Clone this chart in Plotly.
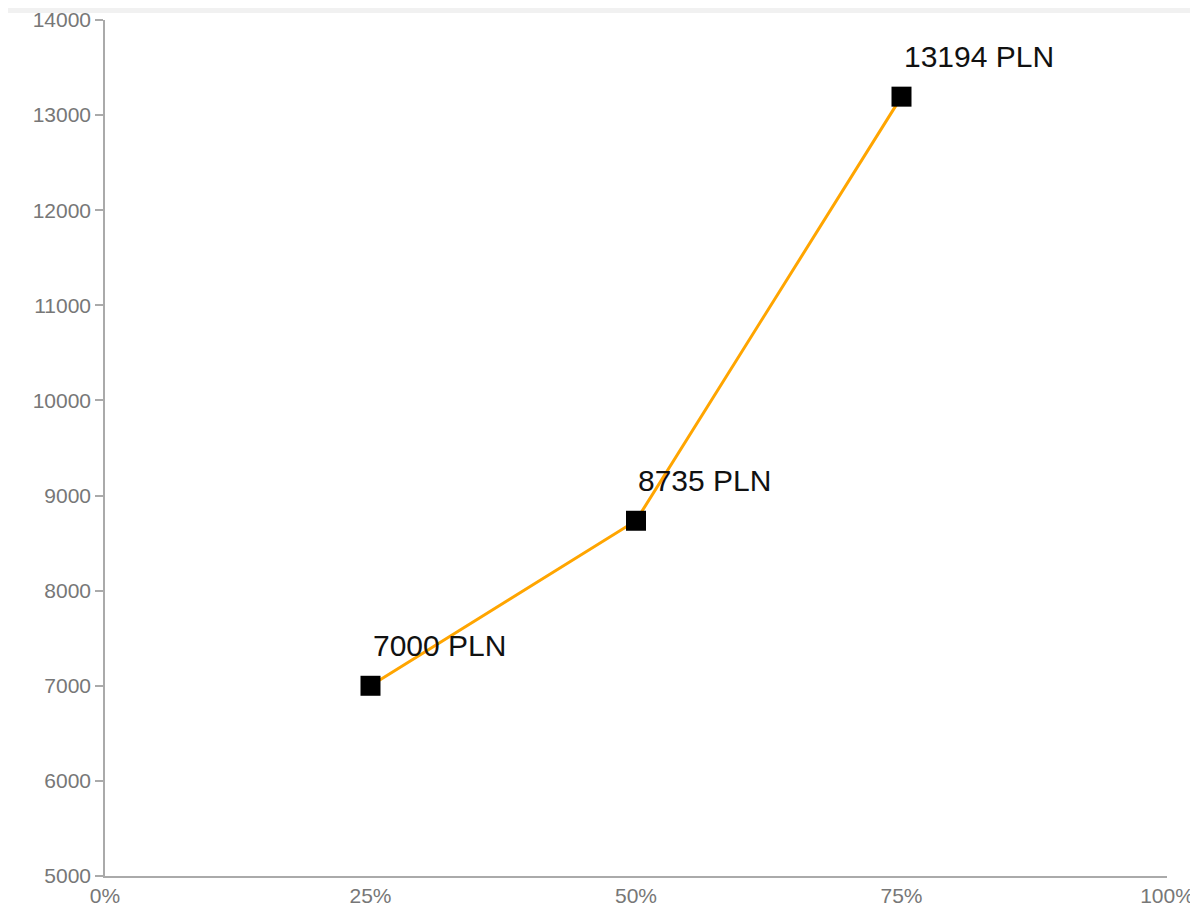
import plotly.graph_objects as go

x_vals = [25, 50, 75]
y_vals = [7000, 8735, 13194]
labels = ["7000 PLN", "8735 PLN", "13194 PLN"]
x_ticks = [0, 25, 50, 75, 100]
x_ticktext = ["0%", "25%", "50%", "75%", "100%"]
y_ticks = [5000, 6000, 7000, 8000, 9000, 10000, 11000, 12000, 13000, 14000]

fig = go.Figure()
fig.add_trace(go.Scatter(
    x=x_vals, y=y_vals, mode="lines+markers",
    line=dict(color="#FFA500", width=3),
    marker=dict(symbol="square", size=20, color="black"),
    hoverinfo="skip", showlegend=False, cliponaxis=False,
))
for xv, yv, t in zip(x_vals, y_vals, labels):
    fig.add_annotation(x=xv, y=yv, text=t, showarrow=False,
                       xanchor="left", yanchor="middle", xshift=0, yshift=40,
                       font=dict(family="Liberation Sans, Arial", size=30, color="#111"))

W, H = 1190, 898
ml, mr, mt, mb = 97, 31, 12, 30
pw, ph = W - ml - mr, H - mt - mb
fig.add_shape(type="rect", xref="paper", yref="paper", layer="below",
              x0=-ml / pw - 0.02, x1=(W - ml) / pw + 0.02,
              y0=-(mb + 20) / ph, y1=(H - mb - 5) / ph,
              fillcolor="white", line=dict(width=0))

fig.update_layout(
    width=W, height=H,
    margin=dict(l=ml, r=mr, t=mt, b=mb, autoexpand=False),
    paper_bgcolor="#f1f1f1", plot_bgcolor="white",
    font=dict(family="Liberation Sans, Arial", size=21, color="#777"),
    xaxis=dict(range=[0, 100], tickvals=x_ticks, ticktext=x_ticktext,
               showgrid=False, zeroline=False, showline=True, linecolor="#aaa",
               linewidth=1.5, ticks="", fixedrange=True, automargin=False,
               ticklabeloverflow="allow"),
    yaxis=dict(range=[5000, 14000], tickvals=y_ticks, showgrid=False,
               zeroline=False, showline=True, linecolor="#aaa", linewidth=1.5,
               ticks="outside", ticklen=8, tickcolor="#aaa", tickwidth=1.5,
               tickformat="d", fixedrange=True, automargin=False,
               ticklabeloverflow="allow"),
)
fig.write_html("out.html")
